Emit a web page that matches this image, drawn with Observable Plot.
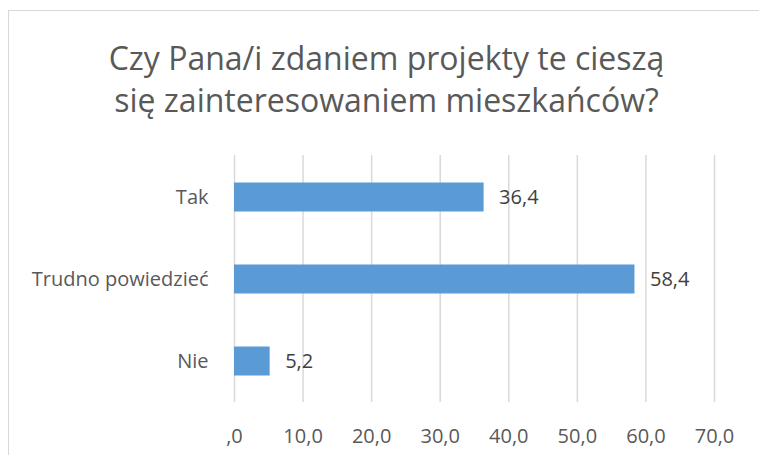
<!DOCTYPE html>
<html>
<head>
<meta charset="utf-8">
<script src="https://cdn.jsdelivr.net/npm/d3@7"></script>
<script src="https://cdn.jsdelivr.net/npm/@observablehq/plot@0.6"></script>
<style>
  html, body { margin: 0; padding: 0; background: #fff; }
  #wrap { position: relative; width: 759px; height: 455px; overflow: hidden; background: #fff; font-family: "Open Sans", sans-serif; }
  #frame { position: absolute; left: 8px; top: 10px; width: 800px; height: 500px; border: 1.5px solid #d9d9d9; box-sizing: border-box; }
  #title { position: absolute; left: 0; width: 773px; top: 37px; text-align: center; color: #595959; font-size: 32px; font-weight: 400; line-height: 42px; white-space: nowrap; }
  #chart { position: absolute; left: 0; top: 140px; }
</style>
</head>
<body>
<div id="wrap">
  <div id="frame"></div>
  <div id="title">Czy Pana/i zdaniem projekty te cieszą<br>się zainteresowaniem mieszkańców?</div>
  <div id="chart"></div>
</div>
<script>
const categories = ["Tak", "Trudno powiedzieć", "Nie"];
const values = [36.4, 58.4, 5.2];
const xTicks = [0, 10, 20, 30, 40, 50, 60, 70];

const data = categories.map((c, i) => ({category: c, value: values[i]}));
const fmt = v => v === 0 ? ",0" : v.toFixed(1).replace(".", ",");

const chart = Plot.plot({
  width: 759,
  height: 315,
  marginTop: 15,
  marginBottom: 53,
  marginLeft: 234,
  marginRight: 45,
  style: {fontFamily: "'Open Sans', sans-serif", fontSize: "20px", color: "#595959", background: "transparent"},
  x: {domain: [0, 70], ticks: xTicks, tickFormat: fmt, tickSize: 0, tickPadding: 26, label: null},
  y: {domain: categories, padding: 0, tickSize: 0, tickPadding: 26, label: null},
  marks: [
    Plot.gridX(xTicks, {stroke: "#d9d9d9", strokeOpacity: 1, strokeWidth: 1.5}),
    Plot.barX(data, {x: "value", y: "category", fill: "#5b9bd5", insetTop: 26.5, insetBottom: 26.5}),
    Plot.text(data, {x: "value", y: "category", text: d => fmt(d.value), dx: 15, textAnchor: "start", fill: "#404040", fontSize: 20})
  ]
});
document.getElementById("chart").appendChild(chart);
</script>
</body>
</html>
